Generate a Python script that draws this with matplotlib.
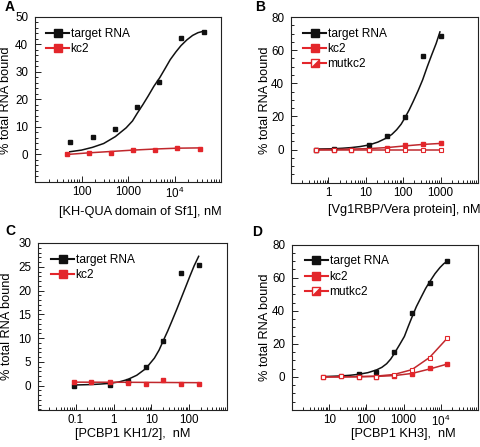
import matplotlib
matplotlib.use("Agg")
import matplotlib.pyplot as plt
from matplotlib.lines import Line2D
from matplotlib.legend_handler import HandlerTuple
from matplotlib.ticker import LogLocator, AutoMinorLocator, NullFormatter

plt.rcParams['font.family'] = ['Liberation Sans', 'DejaVu Sans']
plt.rcParams['mathtext.fontset'] = 'custom'
plt.rcParams['mathtext.rm'] = 'Liberation Sans'

# ---- data (concentrations in nM, % RNA bound) ----
# A: KH-QUA domain of Sf1
a_target_x = [58, 175, 525, 1570, 4700, 14000, 42500]
a_target_y = [4.7, 6.3, 9.3, 17.2, 26.5, 42.3, 44.6]
a_kc2_x = [48, 143, 430, 1290, 3870, 11600, 34800]
a_kc2_y = [0.0, 0.4, 0.7, 1.8, 1.6, 2.3, 1.9]
a_fit_x = [56, 100, 172, 300, 534, 912, 1250, 1580, 2100, 2700, 3600, 4800,
           6300, 8100, 10700, 13800, 18500, 24500, 32000, 41500]
a_fit_y = [1.0, 1.6, 2.6, 4.0, 6.5, 9.7, 12.2, 15.0, 18.2, 21.2, 24.8, 27.9,
           31.3, 34.5, 37.3, 39.6, 41.7, 43.3, 44.3, 44.8]
a_kc2_fit = [0.0, 0.6, 1.1, 1.6, 2.0, 2.3, 2.4]

# B: Vg1RBP/Vera protein
b_conc = [0.46, 1.37, 4.1, 12.3, 37, 111, 333, 1000]
b_target_x = [0.46, 1.37, 12.3, 37, 111, 333, 1000]
b_target_y = [0.0, 0.6, 3.0, 8.0, 19.7, 56.3, 68.5]
b_kc2_y = [0.0, 0.0, 0.0, 0.0, 0.8, 2.6, 3.2, 3.7]
b_mut_y = [0.0, 0.0, 0.0, 0.0, 0.0, 0.0, 0.0, 0.0]
b_fit_x = [0.46, 0.8, 1.37, 2.4, 4.1, 7, 12.3, 21, 36, 50, 67, 88, 110, 145,
           185, 250, 330, 440, 575, 760, 960]
b_fit_y = [0.3, 0.4, 0.5, 0.8, 1.2, 1.8, 2.8, 4.5, 7.0, 9.2, 12.0, 15.3, 19.0,
           24.0, 29.0, 35.5, 42.0, 50.0, 57.0, 64.0, 71.0]
b_kc2_fit = [0.0, 0.1, 0.3, 0.6, 1.2, 2.2, 3.1, 3.7]
b_mut_fit = [0.0, 0.0, 0.0, 0.0, 0.0, 0.0, 0.0, 0.0]

# C: PCBP1 KH1/2
c_conc = [0.09, 0.26, 0.8, 2.35, 7.1, 20.7, 60, 178]
c_target_x = [0.09, 0.8, 2.35, 7.1, 20.7, 60, 178]
c_target_y = [0.0, 0.2, 1.0, 3.9, 9.4, 23.6, 25.4]
c_kc2_y = [0.8, 0.8, 0.8, 0.6, 0.35, 1.1, 0.35, 0.4]
c_fit_x = [0.09, 0.16, 0.26, 0.45, 0.8, 1.4, 2.35, 4.1, 7.1, 12, 16, 20.7, 27,
           34.5, 46, 60, 80, 104, 135, 178]
c_fit_y = [0.15, 0.2, 0.25, 0.35, 0.5, 0.8, 1.3, 2.2, 3.6, 5.8, 7.5, 9.5, 11.5,
           13.5, 15.9, 18.2, 20.7, 23.0, 25.2, 27.2]
c_kc2_fit = [0.75, 0.74, 0.73, 0.72, 0.7, 0.68, 0.66, 0.64]

# D: PCBP1 KH3
d_conc = [6.9, 20.6, 62, 185, 556, 1667, 5000, 15000]
d_target_x = [62, 185, 556, 1667, 5000, 15000]
d_target_y = [1.6, 2.8, 15.3, 38.6, 56.7, 70.0]
d_kc2_y = [0.0, 0.4, 0.0, 0.0, 0.4, 2.0, 5.4, 7.8]
d_mut_y = [0.0, 0.8, 0.0, 0.0, 1.0, 4.0, 11.5, 23.5]
d_fit_x = [6.9, 12, 20.6, 36, 62, 110, 185, 260, 350, 450, 556, 780, 1050, 1330,
           1667, 2200, 3000, 3900, 5000, 7000, 9500, 12000, 15000]
d_fit_y = [0.2, 0.4, 0.6, 1.0, 1.6, 2.6, 4.2, 5.8, 8.0, 10.8, 14.0, 19.5, 24.5,
           30.5, 36.0, 42.5, 48.5, 53.5, 57.5, 62.5, 66.2, 68.5, 70.0]
d_kc2_fit = [0.0, 0.05, 0.1, 0.3, 0.8, 2.1, 4.8, 7.8]
d_mut_fit = [0.0, 0.05, 0.2, 0.5, 1.5, 4.4, 11.8, 23.5]

BLACK = '#111111'
RED = '#e3262b'
RED_LINE = '#c0282d'
MS = 3.4

W, H = 480, 447
fig = plt.figure(figsize=(W / 100, H / 100), dpi=100)


def add_axes_px(left, top, right, bottom):
    return fig.add_axes([left / W, 1 - bottom / H, (right - left) / W, (bottom - top) / H])


def fig_text_px(x, y, s, **kw):
    fig.text(x / W, 1 - y / H, s, ha='center', va='center', **kw)


def setup(ax, xlim, ylim, xticks, xlabels, yticks, yminor):
    ax.set_xscale('log')
    ax.set_xlim(xlim)
    ax.set_ylim(ylim)
    ax.set_xticks(xticks, xlabels)
    ax.xaxis.set_minor_locator(LogLocator(base=10, subs=range(2, 10), numticks=30))
    ax.xaxis.set_minor_formatter(NullFormatter())
    ax.set_yticks(yticks)
    ax.yaxis.set_minor_locator(AutoMinorLocator(yminor))
    ax.tick_params(which='both', direction='in', top=False, right=False,
                   labelsize=8.4, width=0.7, color='#222222')
    ax.tick_params(which='major', length=4)
    ax.tick_params(which='minor', length=2)
    ax.tick_params(axis='x', pad=3)
    ax.tick_params(axis='y', pad=5)
    for s in ax.spines.values():
        s.set_linewidth(0.8)
        s.set_color('#222222')


def add_legend(ax, with_mut, anchor):
    h_t = Line2D([], [], color=BLACK, lw=1.5, marker='s', ms=5.5, mfc=BLACK, mec=BLACK)
    h_k = Line2D([], [], color=RED, lw=1.5, marker='s', ms=5.5, mfc=RED, mec=RED)
    handles = [h_t, h_k]
    labels = ['target RNA', 'kc2']
    if with_mut:
        h_m = Line2D([], [], color=RED, lw=1.5, marker='s', ms=5.5, mfc='white', mec=RED)
        tri = [(-1, -1), (1, -1), (1, 1), (-1, -1)]
        h_tri = Line2D([], [], ls='none', marker=tri, ms=5.5, mfc=RED, mec=RED, mew=0.5)
        handles.append((h_m, h_tri))
        labels.append('mutkc2')
    ax.legend(handles, labels, loc='upper left', bbox_to_anchor=anchor, frameon=False,
              fontsize=8.6, handlelength=1.9, handletextpad=0.15, labelspacing=0.28,
              borderpad=0, borderaxespad=0,
              handler_map={tuple: HandlerTuple(ndivide=1)})


# ---- Panel A ----
axA = add_axes_px(35, 17, 221, 182)
setup(axA, (10, 1e5), (-10, 50), [100, 1000, 1e4], ['100', '1000', r'$\mathregular{10^4}$'],
      [0, 10, 20, 30, 40, 50], 5)
axA.plot(a_fit_x, a_fit_y, color=BLACK, lw=1.1)
axA.plot(a_kc2_x, a_kc2_fit, color=RED_LINE, lw=1.1)
axA.plot(a_target_x, a_target_y, 's', color=BLACK, ms=MS)
axA.plot(a_kc2_x, a_kc2_y, 's', color=RED, ms=MS)
add_legend(axA, False, (0.06, 0.935))

# ---- Panel B ----
axB = add_axes_px(291, 17, 478, 182.7)
setup(axB, (0.1, 1e4), (-20, 80), [1, 10, 100, 1000], ['1', '10', '100', '1000'],
      [0, 20, 40, 60, 80], 4)
axB.plot(b_fit_x, b_fit_y, color=BLACK, lw=1.1)
axB.plot(b_conc, b_kc2_fit, color=RED_LINE, lw=1.1)
axB.plot(b_conc, b_mut_fit, color=RED_LINE, lw=1.1)
axB.plot(b_target_x, b_target_y, 's', color=BLACK, ms=MS)
axB.plot(b_conc, b_kc2_y, 's', color=RED, ms=MS)
axB.plot(b_conc, b_mut_y, 's', mfc='white', mec=RED, mew=0.8, ms=MS)
add_legend(axB, True, (0.065, 0.935))

# ---- Panel C ----
axC = add_axes_px(38, 243, 227, 409.5)
setup(axC, (0.01, 1000), (-5, 30), [0.1, 1, 10, 100], ['0.1', '1', '10', '100'],
      [0, 5, 10, 15, 20, 25, 30], 5)
axC.plot(c_fit_x, c_fit_y, color=BLACK, lw=1.1)
axC.plot(c_conc, c_kc2_fit, color=RED_LINE, lw=1.1)
axC.plot(c_target_x, c_target_y, 's', color=BLACK, ms=MS)
axC.plot(c_conc, c_kc2_y, 's', color=RED, ms=MS)
add_legend(axC, False, (0.07, 0.935))

# ---- Panel D ----
axD = add_axes_px(292, 244.7, 478, 410)
setup(axD, (1, 1e5), (-20, 80), [10, 100, 1000, 1e4],
      ['10', '100', '1000', r'$\mathregular{10^4}$'], [0, 20, 40, 60, 80], 4)
axD.plot(d_fit_x, d_fit_y, color=BLACK, lw=1.1)
axD.plot(d_conc, d_kc2_fit, color=RED_LINE, lw=1.1)
axD.plot(d_conc, d_mut_fit, color=RED_LINE, lw=1.1)
axD.plot(d_target_x, d_target_y, 's', color=BLACK, ms=MS)
axD.plot(d_conc, d_kc2_y, 's', color=RED, ms=MS)
axD.plot(d_conc, d_mut_y, 's', mfc='white', mec=RED, mew=0.8, ms=MS)
add_legend(axD, True, (0.07, 0.935))

# ---- axis titles and panel letters ----
fig_text_px(140, 211.5, '[KH-QUA domain of Sf1], nM', fontsize=9.2)
fig_text_px(404, 210.5, '[Vg1RBP/Vera protein], nM', fontsize=9.2)
fig_text_px(133, 434, '[PCBP1 KH1/2],  nM', fontsize=9.2)
fig_text_px(403, 434, '[PCBP1 KH3],  nM', fontsize=9.2)
for x, y in [(6, 100), (265, 100), (7, 326), (265, 327)]:
    fig_text_px(x, y, '% total RNA bound', fontsize=9.2, rotation=90)
for x, y, s in [(10, 7, 'A'), (260, 7, 'B'), (10, 231, 'C'), (257, 232, 'D')]:
    fig_text_px(x, y, s, fontsize=10, fontweight='bold')

fig.savefig('out.png', dpi=100)
